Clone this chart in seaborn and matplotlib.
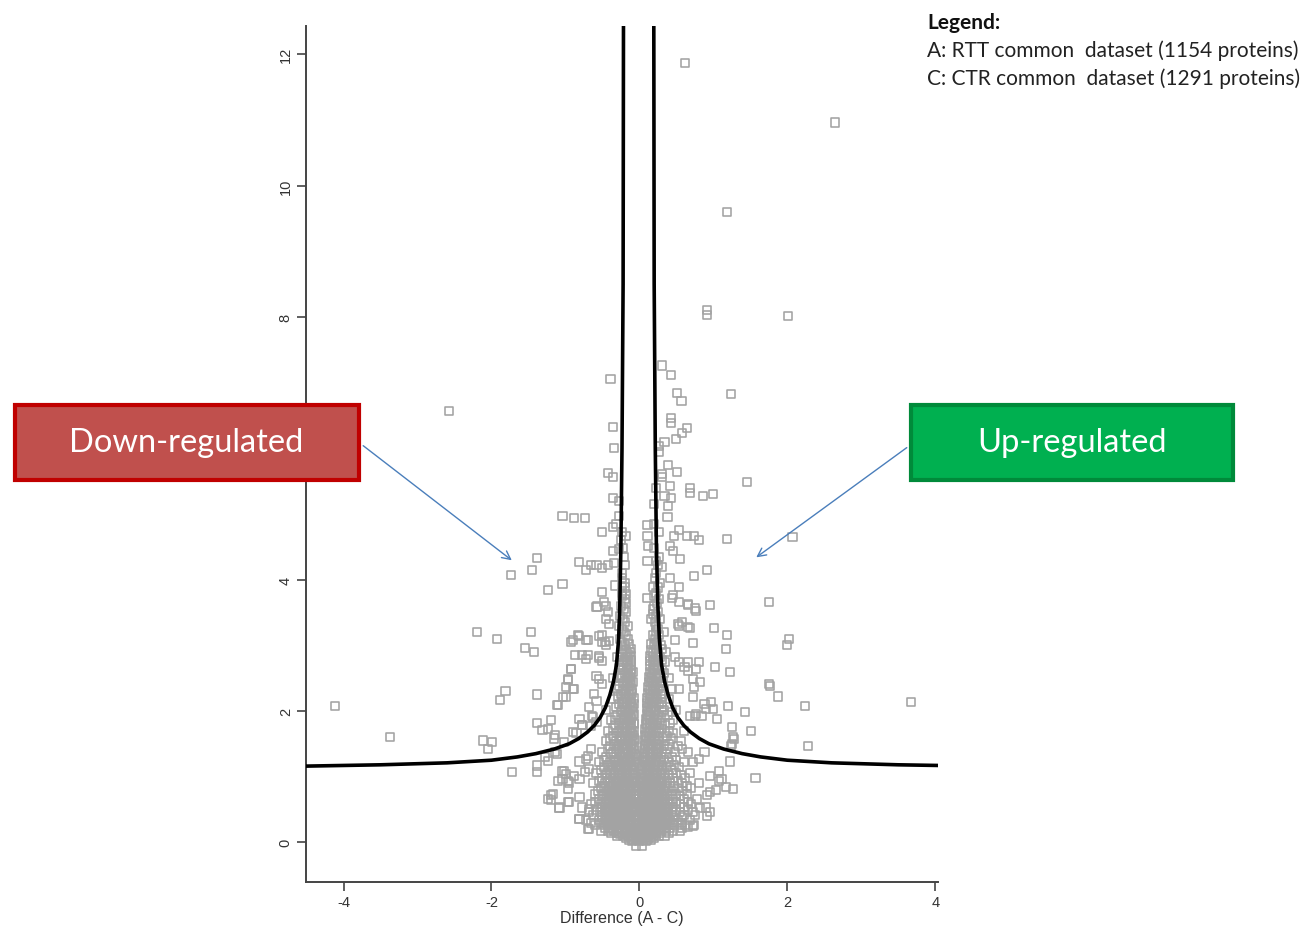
import numpy as np
import pandas as pd
import seaborn as sns
import matplotlib.pyplot as plt
from matplotlib.patches import Rectangle, FancyArrowPatch

# scattered proteins (difference, -log10 p)
sparse_x = [0.62, 2.64, 1.18, 0.92, 0.92, 2.01, -0.39, 0.31, 0.43, 1.24, -2.57, 0.51, 0.57, -0.36,
            0.43, 0.43, 0.64, 0.58, 0.50, 0.34, 0.27, 0.26, -0.34, 0.39, 0.51, 0.30, 0.31, -0.43,
            -0.36, 0.41, 0.68, 0.68, 0.34, 0.43, 0.86, 0.99, 1.45, -0.36, -0.27, 0.20, 0.39, -1.04,
            -0.89, -0.74, -0.27, 0.38, 0.11, 0.20, -0.50, -0.36, -0.31, -0.23, -0.18, 0.27, 0.54,
            0.11, 0.47, 0.64, 0.74, 0.81, 1.19, 2.07, 0.12, 0.41, 0.45, -0.36, -0.27, -1.38, -1.45,
            -1.73, 0.11, 0.23, 0.55, 0.31, 0.41, 0.91, 0.74, 0.18, 0.54,
            -0.82, -0.72, -0.65, -0.58, -0.50, -0.43, -0.34, -1.23, -1.04, -0.50, -0.23, -0.18,
            -0.33, 0.45, 0.11, 0.96, 0.66, 0.75, 1.75, -0.57, -0.48, -2.20, -1.92, -1.46, -1.55,
            -1.43, -0.90, -0.83, -0.69, -0.51, -0.51, -0.45, 0.54, 0.66, 1.01, 0.48, 0.72, 1.19,
            1.17, 2.02, 2.00, -0.87, -0.78, -0.69, -0.54, 0.48, 0.66, 0.81, 1.02, 1.23, -0.93,
            -0.96, -0.90, -1.81, -1.39, -1.88, -1.10, -0.99, 1.75, 1.76, 1.88, 1.20, 1.43, 1.05,
            0.90, 0.99, 0.75, 0.84, 2.24, 3.67, -4.11, -3.37, -1.39, -1.20, -1.23, -0.81, -0.78,
            -0.63, -2.11, -1.99, -2.05, -1.14, -1.02, -0.90, 1.25, 1.51, 1.27, 1.25, 2.28, 1.22,
            1.57, -1.72, -1.39, -1.39, -1.27, -1.14, -1.02, -0.96, -1.10, -0.96, -1.17, -1.20,
            -1.08, -0.96, -0.81, -0.68, 1.08, 1.11, 1.17, 1.27, 0.90, 0.96, 0.72,
            -0.58, -0.45, -0.43, -0.45, -0.41, -0.93, -0.82, -0.72, -0.54, -0.46, -0.41, -0.72,
            -0.55, -0.50, -0.92, -0.97, -0.99, -0.89, -1.03, -1.11, -0.58, -0.54, -0.50, -0.61,
            -0.58, -0.68, -1.31, -1.15, -0.85, -0.77, -0.64, -0.65, -0.58, -1.24, -1.11,
            -1.05, -0.99, -1.04, -0.95, -0.88, -0.81, -0.74, -0.68, -0.81, -0.72, -0.65, -0.70,
            -1.24, -1.19, -1.09, -0.95, -0.81, -0.77, -0.68, -0.81, -0.70,
            0.44, 0.54, 0.66, 0.77, 0.18, 0.52, 0.58, 0.68, 0.54, 0.61, 0.66, 0.77, 0.82, 0.72,
            0.53, 0.74, 0.73, 0.88, 0.97, 0.77, 0.68, 1.28, 1.24, 0.88, 0.81, 0.72, 0.95, 1.08,
            1.04, 0.95, 0.91, 0.82, 0.91, 0.74, 0.65, 0.58]
sparse_y = [11.87, 10.96, 9.60, 8.11, 8.03, 8.02, 7.06, 7.26, 7.12, 6.83, 6.57, 6.84, 6.72, 6.33,
            6.46, 6.39, 6.31, 6.23, 6.14, 6.10, 6.04, 5.95, 6.01, 5.75, 5.64, 5.61, 5.56, 5.63,
            5.56, 5.43, 5.40, 5.32, 5.27, 5.24, 5.27, 5.30, 5.49, 5.24, 5.20, 5.15, 5.12, 4.97,
            4.94, 4.94, 4.97, 4.95, 4.83, 4.85, 4.73, 4.80, 4.85, 4.73, 4.66, 4.73, 4.76,
            4.66, 4.66, 4.66, 4.66, 4.60, 4.62, 4.65, 4.51, 4.51, 4.44, 4.44, 4.47, 4.33, 4.15,
            4.07, 4.28, 4.28, 4.31, 4.19, 4.02, 4.15, 4.05, 3.89, 3.89,
            4.27, 4.15, 4.22, 4.22, 4.18, 4.22, 4.25, 3.84, 3.93, 3.81, 3.89, 3.78,
            3.91, 3.76, 3.72, 3.62, 3.63, 3.56, 3.66, 3.59, 3.66, 3.20, 3.09, 3.20, 2.96,
            2.90, 3.08, 3.16, 3.08, 3.15, 3.05, 3.00, 3.30, 3.28, 3.26, 3.08, 3.03, 3.15,
            2.95, 3.10, 3.00, 2.85, 2.85, 2.85, 2.80, 2.82, 2.75, 2.74, 2.67, 2.59, 2.64,
            2.47, 2.34, 2.30, 2.25, 2.16, 2.09, 2.21, 2.41, 2.38, 2.22, 2.08, 1.98, 1.88,
            2.03, 2.03, 1.93, 1.93, 2.08, 2.13, 2.08, 1.60, 1.81, 1.86, 1.73, 1.88, 1.78,
            1.91, 1.55, 1.53, 1.42, 1.63, 1.53, 1.68, 1.75, 1.69, 1.60, 1.50, 1.47, 1.23,
            0.98, 1.07, 1.07, 1.17, 1.30, 1.37, 1.09, 0.94, 0.94, 0.81, 0.74, 0.64,
            0.53, 0.61, 0.36, 0.20, 1.09, 0.97, 0.84, 0.81, 0.53, 0.46, 0.25,
            3.58, 3.60, 3.51, 3.40, 3.32, 3.05, 3.14, 3.08, 3.14, 3.05, 3.06, 2.79,
            2.84, 2.76, 2.64, 2.48, 2.36, 2.33, 2.21, 2.09, 2.53, 2.48, 2.41, 2.26,
            2.15, 2.06, 1.71, 1.58, 1.66, 1.78, 1.92, 1.77, 1.83, 1.24, 1.34,
            1.08, 1.04, 0.96, 0.91, 1.01, 0.96, 1.07, 1.11, 1.23, 1.27, 1.42, 1.31,
            0.66, 0.72, 0.52, 0.61, 0.69, 0.53, 0.50, 0.35, 0.20,
            3.72, 3.66, 3.61, 3.52, 3.48, 3.32, 3.35, 3.26, 2.74, 2.67, 2.61, 2.64, 2.44, 2.48,
            2.33, 2.36, 2.21, 2.10, 2.13, 1.95, 1.92, 1.57, 1.46, 1.37, 1.27, 1.22, 1.01, 0.93,
            0.79, 0.76, 0.72, 0.52, 0.40, 0.27, 0.24, 0.27]

# dense centre of the volcano, read row by row
core_y = [-0.05, 0.03, 0.10, 0.18, 0.26, 0.34, 0.42, 0.50, 0.58, 0.66, 0.74, 0.82, 0.90, 0.98,
          1.06, 1.14, 1.22, 1.30, 1.38, 1.46, 1.54, 1.62, 1.70, 1.78, 1.86, 1.94, 2.02, 2.10,
          2.18, 2.26, 2.34, 2.42, 2.50, 2.58, 2.66, 2.74, 2.82, 2.90, 3.00, 3.10, 3.20, 3.30,
          3.40, 3.50, 3.60, 3.70, 3.80, 3.95, 4.10, 4.35, 4.60, 5.40]
core_x = [
    [-0.05, 0.03],
    [-0.14, -0.08, -0.02, 0.04, 0.10, 0.16],
    [-0.30, -0.22, -0.15, -0.08, -0.02, 0.05, 0.12, 0.19, 0.26, 0.34],
    [-0.52, -0.42, -0.34, -0.27, -0.20, -0.13, -0.06, 0.01, 0.08, 0.15, 0.22, 0.29, 0.36, 0.45, 0.55],
    [-0.60, -0.48, -0.40, -0.33, -0.26, -0.19, -0.12, -0.05, 0.03, 0.10, 0.17, 0.24, 0.31, 0.38, 0.47, 0.62],
    [-0.72, -0.55, -0.45, -0.37, -0.29, -0.22, -0.15, -0.08, -0.02, 0.05, 0.12, 0.19, 0.26, 0.33, 0.41, 0.52, 0.68],
    [-0.62, -0.50, -0.41, -0.33, -0.26, -0.19, -0.12, -0.06, 0.04, 0.10, 0.17, 0.24, 0.31, 0.39, 0.48, 0.60, 0.75],
    [-0.58, -0.47, -0.39, -0.31, -0.24, -0.17, -0.10, -0.04, 0.04, 0.10, 0.17, 0.24, 0.31, 0.39, 0.50, 0.66],
    [-0.66, -0.52, -0.42, -0.34, -0.27, -0.20, -0.13, -0.06, 0.04, 0.11, 0.18, 0.25, 0.33, 0.42, 0.55, 0.70],
    [-0.55, -0.45, -0.36, -0.28, -0.21, -0.14, -0.07, 0.05, 0.12, 0.19, 0.27, 0.35, 0.46, 0.60, 0.78],
    [-0.60, -0.48, -0.38, -0.30, -0.22, -0.15, -0.08, 0.05, 0.12, 0.20, 0.28, 0.37, 0.49, 0.64],
    [-0.52, -0.41, -0.32, -0.24, -0.16, -0.09, 0.05, 0.13, 0.21, 0.29, 0.39, 0.52, 0.70],
    [-0.62, -0.46, -0.36, -0.27, -0.18, -0.10, 0.05, 0.13, 0.22, 0.31, 0.42, 0.58, 0.80],
    [-0.50, -0.39, -0.29, -0.19, -0.10, 0.06, 0.14, 0.23, 0.33, 0.45, 0.62],
    [-0.58, -0.44, -0.33, -0.23, -0.13, -0.06, 0.06, 0.14, 0.24, 0.35, 0.50, 0.68],
    [-0.48, -0.36, -0.25, -0.15, -0.07, 0.07, 0.15, 0.25, 0.37, 0.54],
    [-0.55, -0.40, -0.28, -0.17, -0.08, 0.07, 0.16, 0.27, 0.40, 0.60],
    [-0.45, -0.31, -0.19, -0.09, 0.07, 0.17, 0.29, 0.44],
    [-0.50, -0.35, -0.22, -0.11, 0.08, 0.18, 0.31, 0.48, 0.66],
    [-0.40, -0.27, -0.16, -0.07, 0.08, 0.19, 0.33, 0.52],
    [-0.45, -0.31, -0.20, -0.10, 0.09, 0.20, 0.34, 0.56],
    [-0.36, -0.24, -0.13, 0.09, 0.21, 0.37],
    [-0.42, -0.28, -0.17, -0.08, 0.10, 0.22, 0.40, 0.60],
    [-0.33, -0.21, -0.11, 0.10, 0.23, 0.35],
    [-0.38, -0.25, -0.14, 0.11, 0.24, 0.45],
    [-0.30, -0.18, -0.09, 0.12, 0.25, 0.38],
    [-0.45, -0.23, -0.13, 0.12, 0.22, 0.33, 0.50],
    [-0.28, -0.17, -0.08, 0.13, 0.27],
    [-0.35, -0.21, -0.11, 0.14, 0.24, 0.40],
    [-0.25, -0.14, 0.14, 0.29],
    [-0.30, -0.18, -0.10, 0.15, 0.25, 0.44],
    [-0.22, -0.13, 0.16, 0.31],
    [-0.35, -0.26, -0.16, 0.16, 0.27, 0.40],
    [-0.20, -0.11, 0.17, 0.33],
    [-0.28, -0.15, 0.18, 0.27],
    [-0.22, -0.12, 0.18, 0.34],
    [-0.30, -0.17, 0.19, 0.28],
    [-0.24, -0.13, 0.19, 0.36],
    [-0.19, 0.20, 0.29],
    [-0.26, -0.15, 0.21],
    [-0.21, 0.22, 0.33],
    [-0.28, -0.16, 0.23],
    [-0.22, 0.16, 0.28],
    [-0.18, 0.25],
    [-0.25, 0.20],
    [-0.19, 0.27],
    [-0.24, 0.22],
    [-0.20, 0.28],
    [-0.23, 0.22],
    [-0.21, 0.27],
    [-0.25],
    [0.22],
]

# second, staggered set of rows inside the solid part of the centre
core2_y = [0.06, 0.14, 0.22, 0.30, 0.38, 0.46, 0.54, 0.62, 0.70, 0.78, 0.86, 0.94, 1.02, 1.10,
           1.18, 1.26, 1.34, 1.42, 1.50, 1.58, 1.66, 1.74, 1.82, 1.90, 1.98, 2.06, 2.14, 2.22,
           2.30, 2.38, 2.46, 2.54, 2.62, 2.70, 2.78, 2.86, 2.95, 3.05, 3.15, 3.25, 3.35, 3.45,
           3.55, 3.65, 3.75, 3.88, 4.02, 4.22, 4.48]
core2_x = [
    [-0.18, -0.11, -0.05, 0.01, 0.07, 0.13, 0.20],
    [-0.38, -0.30, -0.24, -0.18, -0.11, -0.05, 0.02, 0.08, 0.14, 0.21, 0.28, 0.40],
    [-0.46, -0.37, -0.30, -0.23, -0.16, -0.09, -0.03, 0.05, 0.12, 0.19, 0.26, 0.33, 0.42, 0.58],
    [-0.66, -0.52, -0.43, -0.35, -0.29, -0.22, -0.16, -0.09, -0.03, 0.06, 0.13, 0.20, 0.27, 0.35, 0.44, 0.56],
    [-0.50, -0.41, -0.34, -0.27, -0.20, -0.13, -0.06, 0.07, 0.14, 0.21, 0.28, 0.36, 0.45, 0.58],
    [-0.68, -0.53, -0.44, -0.36, -0.29, -0.22, -0.15, -0.08, 0.06, 0.13, 0.20, 0.27, 0.35, 0.44, 0.55, 0.72],
    [-0.50, -0.41, -0.34, -0.27, -0.20, -0.13, -0.07, 0.07, 0.14, 0.21, 0.28, 0.36, 0.46, 0.60],
    [-0.60, -0.47, -0.39, -0.31, -0.24, -0.17, -0.10, -0.04, 0.07, 0.14, 0.22, 0.29, 0.38, 0.50, 0.66],
    [-0.51, -0.41, -0.33, -0.25, -0.18, -0.11, -0.04, 0.08, 0.15, 0.23, 0.31, 0.41, 0.55],
    [-0.56, -0.44, -0.35, -0.27, -0.19, -0.12, -0.05, 0.08, 0.16, 0.24, 0.33, 0.44, 0.58],
    [-0.48, -0.38, -0.29, -0.21, -0.13, -0.06, 0.08, 0.16, 0.25, 0.35, 0.47, 0.64],
    [-0.55, -0.42, -0.32, -0.23, -0.14, -0.06, 0.09, 0.17, 0.27, 0.37, 0.52],
    [-0.45, -0.35, -0.26, -0.17, -0.09, 0.09, 0.18, 0.28, 0.40, 0.56],
    [-0.52, -0.39, -0.29, -0.19, -0.10, 0.10, 0.19, 0.30, 0.44],
    [-0.43, -0.32, -0.21, -0.12, 0.10, 0.20, 0.31, 0.47],
    [-0.48, -0.34, -0.23, -0.13, -0.05, 0.11, 0.21, 0.33, 0.50],
    [-0.38, -0.26, -0.15, -0.06, 0.11, 0.22, 0.36],
    [-0.43, -0.30, -0.19, -0.10, 0.12, 0.23, 0.38, 0.58],
    [-0.34, -0.22, -0.12, 0.12, 0.24, 0.40],
    [-0.39, -0.26, -0.15, -0.07, 0.13, 0.25, 0.43],
    [-0.30, -0.19, -0.10, 0.13, 0.26, 0.45],
    [-0.36, -0.23, -0.13, 0.14, 0.27],
    [-0.27, -0.16, -0.08, 0.14, 0.28, 0.42],
    [-0.33, -0.21, -0.11, 0.15, 0.29],
    [-0.25, -0.15, 0.15, 0.30, 0.44],
    [-0.32, -0.20, -0.10, 0.16, 0.30],
    [-0.24, -0.13, 0.17, 0.31],
    [-0.29, -0.18, 0.17, 0.30],
    [-0.22, -0.12, 0.18, 0.32],
    [-0.27, -0.16, 0.19, 0.28],
    [-0.20, -0.11, 0.19, 0.32],
    [-0.25, -0.15, 0.20, 0.28],
    [-0.22, -0.12, 0.20, 0.31],
    [-0.26, -0.17, 0.21],
    [-0.20, -0.11, 0.21, 0.30],
    [-0.24, -0.15, 0.22],
    [-0.21, -0.12, 0.22, 0.31],
    [-0.23, 0.24],
    [-0.18, 0.19, 0.27],
    [-0.24, 0.25],
    [-0.19, 0.21],
    [-0.26, 0.23],
    [-0.21, 0.18],
    [-0.18, 0.24],
    [-0.23, 0.20],
    [-0.19, 0.25],
    [-0.24, 0.21],
    [-0.20, 0.25],
    [-0.22, 0.20],
]

# third set: the solid grey lobes either side of zero
core3_y = [0.02, 0.12, 0.20, 0.28, 0.36, 0.44, 0.52, 0.60, 0.68, 0.76, 0.84, 0.92, 1.00, 1.08,
           1.16, 1.24, 1.32, 1.40, 1.48, 1.56, 1.64, 1.72, 1.80, 1.88, 1.96, 2.04, 2.12, 2.20,
           2.28, 2.36, 2.44, 2.52, 2.60, 2.68, 2.76, 2.84, 2.92, 3.02]
core3_x = [
    [-0.10, 0.00, 0.09],
    [-0.26, -0.19, -0.12, -0.05, 0.02, 0.09, 0.16, 0.23],
    [-0.40, -0.31, -0.24, -0.17, -0.10, -0.01, 0.06, 0.13, 0.20, 0.28, 0.36],
    [-0.44, -0.37, -0.30, -0.23, -0.16, -0.08, 0.00, 0.07, 0.14, 0.21, 0.28, 0.36],
    [-0.47, -0.40, -0.32, -0.25, -0.18, -0.11, -0.04, 0.03, 0.09, 0.16, 0.23, 0.30, 0.38],
    [-0.45, -0.37, -0.30, -0.23, -0.16, -0.10, 0.02, 0.08, 0.15, 0.22, 0.29, 0.37],
    [-0.43, -0.36, -0.29, -0.22, -0.15, -0.08, 0.02, 0.09, 0.16, 0.23, 0.30, 0.38],
    [-0.45, -0.37, -0.30, -0.23, -0.16, -0.09, 0.02, 0.09, 0.16, 0.24, 0.31],
    [-0.41, -0.33, -0.25, -0.18, -0.11, -0.04, 0.03, 0.10, 0.17, 0.24, 0.32],
    [-0.43, -0.34, -0.26, -0.19, -0.12, 0.03, 0.10, 0.17, 0.25, 0.34],
    [-0.37, -0.28, -0.20, -0.13, -0.05, 0.03, 0.11, 0.18, 0.26],
    [-0.40, -0.31, -0.22, -0.14, -0.06, 0.03, 0.11, 0.19, 0.28],
    [-0.34, -0.24, -0.15, -0.07, 0.04, 0.12, 0.20, 0.29],
    [-0.38, -0.27, -0.17, -0.09, 0.04, 0.12, 0.21, 0.30],
    [-0.30, -0.20, -0.10, 0.05, 0.13, 0.21, 0.31],
    [-0.33, -0.22, -0.11, 0.05, 0.14, 0.22],
    [-0.25, -0.13, -0.05, 0.06, 0.14, 0.24],
    [-0.28, -0.16, -0.07, 0.06, 0.15, 0.25],
    [-0.21, -0.12, 0.07, 0.16, 0.26],
    [-0.25, -0.15, -0.06, 0.07, 0.16, 0.27],
    [-0.19, -0.09, 0.08, 0.17],
    [-0.22, -0.12, 0.08, 0.18, 0.30],
    [-0.18, -0.08, 0.09, 0.19],
    [-0.21, -0.11, 0.09, 0.20],
    [-0.16, -0.07, 0.10, 0.21],
    [-0.18, -0.09, 0.10, 0.19],
    [-0.22, -0.12, 0.11, 0.22],
    [-0.16, -0.08, 0.11, 0.20],
    [-0.19, -0.10, 0.12, 0.23],
    [-0.14, 0.12, 0.21],
    [-0.17, -0.09, 0.13, 0.24],
    [-0.13, 0.13, 0.22],
    [-0.17, -0.09, 0.14],
    [-0.12, 0.14, 0.24],
    [-0.16, 0.15],
    [-0.11, 0.15, 0.25],
    [-0.18, 0.16],
    [-0.14, 0.16],
]

# significance threshold curve (two branches)
curve_left_x = [-4.51, -3.50, -2.60, -2.00, -1.65, -1.40, -1.15, -0.95, -0.82, -0.70, -0.61,
                -0.53, -0.46, -0.40, -0.35, -0.31, -0.28, -0.265, -0.25, -0.235, -0.22, -0.215]
curve_left_y = [1.16, 1.18, 1.21, 1.25, 1.30, 1.35, 1.42, 1.50, 1.58, 1.68, 1.78,
                1.90, 2.05, 2.24, 2.45, 2.70, 3.10, 3.60, 4.50, 6.00, 8.50, 12.43]
curve_right_x = [0.195, 0.20, 0.215, 0.23, 0.25, 0.27, 0.30, 0.34, 0.39, 0.45, 0.52,
                 0.60, 0.69, 0.81, 0.94, 1.14, 1.39, 1.64, 2.00, 2.60, 3.50, 4.04]
curve_right_y = [12.43, 8.50, 6.00, 4.50, 3.60, 3.10, 2.70, 2.45, 2.24, 2.05, 1.90,
                 1.78, 1.68, 1.58, 1.50, 1.42, 1.35, 1.30, 1.25, 1.21, 1.18, 1.17]

y_ticks = [0, 2, 4, 6, 8, 10, 12]
y_ticklabels = ["0", "2", "4", "", "8", "10", "12"]   # the 6 sits under the red box
x_ticks = [-4, -2, 0, 2, 4]

legend_lines = ["A: RTT common  dataset (1154 proteins)",
                "C: CTR common  dataset (1291 proteins)"]

xs = list(sparse_x)
ys = list(sparse_y)
rows = list(zip(core_y, core_x)) + list(zip(core2_y, core2_x)) + list(zip(core3_y, core3_x))
for yy, row in rows:
    xs += row
    ys += [yy] * len(row)
df = pd.DataFrame({"diff": xs, "logp": ys})

sns.set_style("ticks")
plt.rcParams['font.family'] = ['Liberation Sans', 'DejaVu Sans']

W, H = 1305, 929
fig = plt.figure(figsize=(W / 100, H / 100), dpi=100)
ax = fig.add_axes([306 / W, 1 - 882.7 / H, (938 - 306) / W, (882.7 - 27) / H])

sns.scatterplot(data=df, x="diff", y="logp", ax=ax, marker="s", s=34,
                facecolor="none", edgecolor="#a3a3a3", linewidth=1.15, zorder=2)
sns.lineplot(x=curve_left_x, y=curve_left_y, ax=ax, sort=False, estimator=None,
             color="black", lw=2.6, zorder=3)
sns.lineplot(x=curve_right_x, y=curve_right_y, ax=ax, sort=False, estimator=None,
             color="black", lw=2.6, zorder=3)

ax.set_xlim(-4.507, 4.037)
ax.set_ylim(-0.60, 12.43)
ax.set_xticks(x_ticks)
ax.set_yticks(y_ticks)
ax.set_xticklabels([str(t) for t in x_ticks])
ax.set_yticklabels(y_ticklabels, rotation=90, va="center")
sns.despine(ax=ax)
for s in ["left", "bottom"]:
    ax.spines[s].set_color("#444444")
    ax.spines[s].set_linewidth(1.4)
ax.tick_params(axis="both", length=6.5, width=1.2, color="#444444", labelsize=10.5,
               labelcolor="#333333", pad=3)
ax.set_xlabel("Difference (A - C)", fontsize=11.5, color="#333333", labelpad=1)
ax.set_ylabel("")

# annotation boxes (figure pixels -> fraction)
def fx(px):
    return px / W

def fy(py):
    return 1 - py / H

fig.add_artist(Rectangle((fx(15), fy(481)), fx(359) - fx(15), fy(406) - fy(481),
                         transform=fig.transFigure, facecolor="#c0504d",
                         edgecolor="#c00000", lw=3, zorder=10))
fig.text(fx(186), fy(443), "Down-regulated", color="white", fontsize=23.5,
         family=["Lato", "DejaVu Sans"], ha="center", va="center", zorder=11)
fig.add_artist(Rectangle((fx(911), fy(481)), fx(1233) - fx(911), fy(406) - fy(481),
                         transform=fig.transFigure, facecolor="#00b050",
                         edgecolor="#008a3a", lw=3, zorder=10))
fig.text(fx(1072), fy(443), "Up-regulated", color="white", fontsize=23.5,
         family=["Lato", "DejaVu Sans"], ha="center", va="center", zorder=11)

for (x0, y0), (x1, y1) in [((361, 445), (514, 563)), ((909, 447), (754, 560))]:
    fig.add_artist(FancyArrowPatch((fx(x0), fy(y0)), (fx(x1), fy(y1)),
                                   transform=fig.transFigure, arrowstyle="->,head_length=6,head_width=3",
                                   color="#4a7ebb", lw=1.0, zorder=9))

fig.text(fx(927), fy(23), "Legend:", fontsize=15, fontweight="bold",
         family=["Lato", "DejaVu Sans"], va="center", ha="left", color="#111111")
for i, line in enumerate(legend_lines):
    fig.text(fx(927), fy(51 + 28 * i), line, fontsize=15,
             family=["Lato", "DejaVu Sans"], va="center", ha="left", color="#222222")

fig.savefig("out.png", dpi=100)
